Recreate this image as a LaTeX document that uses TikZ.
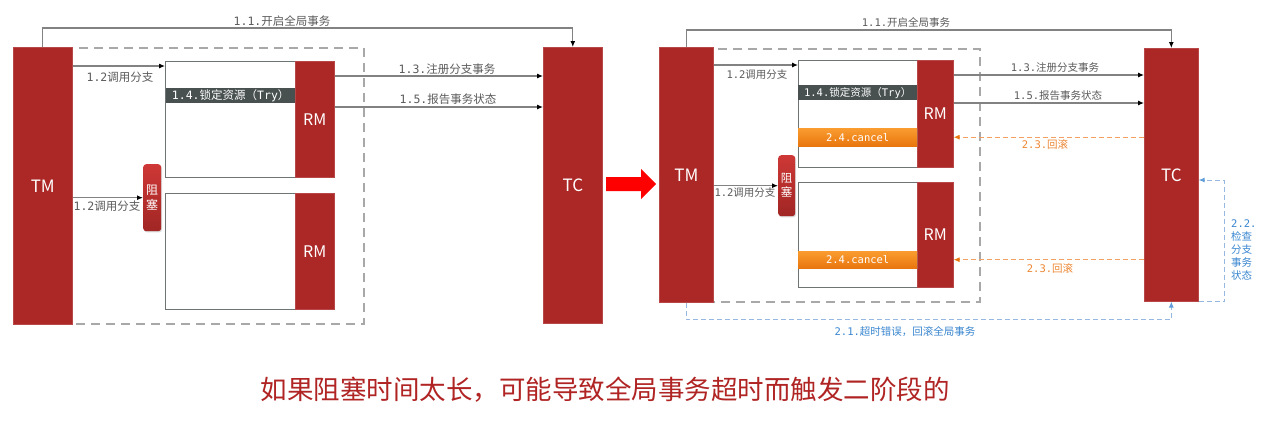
\documentclass[tikz,border=0pt]{standalone}
\usepackage{fontspec}
\setmainfont{DejaVu Sans}
\newfontfamily\cjk{Noto Sans CJK SC}
\newfontfamily\mono{DejaVu Sans Mono}
\usetikzlibrary{arrows.meta,shadows,calc}
\definecolor{tred}{RGB}{172,40,38}
\definecolor{dashgray}{RGB}{168,168,168}
\definecolor{linegray}{RGB}{130,130,130}
\definecolor{labelgray}{RGB}{90,90,90}
\definecolor{boxgray}{RGB}{110,116,116}
\definecolor{trybg}{RGB}{72,80,80}
\definecolor{otop}{RGB}{250,156,48}
\definecolor{obot}{RGB}{232,118,14}
\definecolor{oline}{RGB}{244,160,100}
\definecolor{otext}{RGB}{236,134,50}
\definecolor{btext}{RGB}{58,134,207}
\definecolor{bline}{RGB}{150,184,224}
\definecolor{blktop}{RGB}{206,56,54}
\definecolor{blkbot}{RGB}{160,38,36}
\definecolor{bigtext}{RGB}{176,36,36}
\newcommand\fsA{\fontsize{11.5}{13}\selectfont}
\newcommand\fsB{\fontsize{10.5}{12}\selectfont}
\newcommand\mx[2]{{\mono #1}{\cjk #2}}
\tikzset{
  redbar/.style={fill=tred, draw=tred!85!white, line width=0.6pt, inner sep=0, anchor=north west,
    text=white, font=\cjk\fontsize{17}{17}\selectfont},
  rmbar/.style={redbar, font=\cjk\fontsize{16}{16}\selectfont},
  whitebox/.style={draw=boxgray, line width=1.2pt, fill=white, inner sep=0, anchor=north west},
  scopebox/.style={draw=dashgray, line width=2.4pt, dash pattern=on 9pt off 6pt, inner sep=0, anchor=north west},
  trybox/.style={fill=trybg, text=white, inner sep=0, anchor=north west},
  cancelbox/.style={top color=otop, bottom color=obot, draw=none, text=white, inner sep=0, anchor=north west,
    drop shadow={opacity=0.25, shadow xshift=0.5pt, shadow yshift=-1pt}},
  blockbox/.style={top color=blktop, bottom color=blkbot, rounded corners=3pt, text=white, inner sep=0,
    anchor=north west, align=center, drop shadow={opacity=0.3, shadow xshift=0.8pt, shadow yshift=-1.2pt}},
  lblA/.style={text=labelgray, font=\fsA, inner sep=0},
  lblB/.style={text=labelgray, font=\fsB, inner sep=0},
  olbl/.style={text=otext, font=\fsB, inner sep=0},
  blbl/.style={text=btext, font=\fsB, inner sep=0},
  conn/.style={draw=linegray, line width=1.1pt, -{Latex[length=6pt,width=5pt,color=black]}},
  oconn/.style={draw=oline, line width=1pt, dash pattern=on 5pt off 3pt, -{Latex[length=6pt,width=5pt,color=obot]}},
  bconn/.style={draw=bline, line width=1pt, dash pattern=on 5pt off 3pt, -{Latex[length=6pt,width=5pt,color=btext!80!white]}},
}
\begin{document}
\begin{tikzpicture}[x=1pt,y=-1pt]
\useasboundingbox (0,0) rectangle (1265,421);
% ================= LEFT =================
\node[scopebox, minimum width=333pt, minimum height=276pt] (scopeL) at (30,47) {};
\node[whitebox, minimum width=169pt, minimum height=116pt] (boxUL) at (165,61) {};
\node[whitebox, minimum width=169pt, minimum height=116pt] (boxDL) at (165,193) {};
\node[rmbar, minimum width=39pt, minimum height=116pt] (rmUL) at (295,61) {RM};
\node[rmbar, minimum width=39pt, minimum height=116pt] (rmDL) at (295,193) {RM};
\node[trybox, minimum width=129pt, minimum height=15pt, font=\fsA] (tryL) at (166,88) {\mx{1.4.}{锁定资源（}{\mono Try}{\cjk ）}};
\node[blockbox, minimum width=18pt, minimum height=67pt, font=\fontsize{12}{15}\selectfont] (blkL) at (143,164) {\cjk 阻\\\cjk 塞};
\node[redbar, minimum width=59pt, minimum height=277pt] (tmL) at (13,47) {TM};
\node[redbar, minimum width=59pt, minimum height=276pt] (tcL) at (543,47) {TC};

\draw[conn] (tmL.north) -- ++(0,-19) -| (tcL.north);
\node[lblA] (l11L) at (282,21) {\mx{1.1.}{开启全局事务}};
\draw[conn] ($(tmL.east |- boxUL.north)+(0,5)$) -- ($(boxUL.north west)+(0,5)$);
\node[lblA] (l12aL) at (120,77) {\mx{1.2}{调用分支}};
\draw[conn] (tmL.east |- blkL.west) -- (blkL.west);
\node[lblA] (l12bL) at (107,206) {\mx{1.2}{调用分支}};
\draw[conn] ($(rmUL.north east)+(0,15)$) -- ($(tcL.west |- rmUL.north)+(0,15)$);
\node[lblA] (l13L) at (447,69) {\mx{1.3.}{注册分支事务}};
\draw[conn] ($(rmUL.north east)+(0,46)$) -- ($(tcL.west |- rmUL.north)+(0,46)$);
\node[lblA] (l15L) at (448,99) {\mx{1.5.}{报告事务状态}};

% ================= ARROW =================
\fill[red] (606,177) -- (641,177) -- (641,169) -- (656,184) -- (641,199) -- (641,191) -- (606,191) -- cycle;

% ================= RIGHT =================
\node[scopebox, minimum width=304pt, minimum height=253pt] (scopeR) at (675,48) {};
\node[whitebox, minimum width=155pt, minimum height=107pt] (boxUR) at (798,60) {};
\node[whitebox, minimum width=155pt, minimum height=105pt] (boxDR) at (798,182) {};
\node[rmbar, minimum width=36pt, minimum height=107pt] (rmUR) at (917,60) {RM};
\node[rmbar, minimum width=36pt, minimum height=105pt] (rmDR) at (917,182) {RM};
\node[trybox, minimum width=119pt, minimum height=15pt, font=\fsB] (tryR) at (798,85) {\mx{1.4.}{锁定资源（}{\mono Try}{\cjk ）}};
\node[cancelbox, minimum width=119pt, minimum height=18pt, font=\fsB] (canUR) at (798,128) {\mono 2.4.cancel};
\node[cancelbox, minimum width=119pt, minimum height=17pt, font=\fsB] (canDR) at (798,251) {\mono 2.4.cancel};
\node[blockbox, minimum width=17pt, minimum height=61pt, font=\fontsize{11.5}{14}\selectfont] (blkR) at (778,155) {\cjk 阻\\\cjk 塞};
\node[redbar, minimum width=54pt, minimum height=255pt] (tmR) at (659,47) {TM};
\node[redbar, minimum width=54pt, minimum height=253pt] (tcR) at (1144,48) {TC};

\draw[conn] (tmR.north) -- ++(0,-17) -| (tcR.north);
\node[lblB] (l11R) at (906,22) {\mx{1.1.}{开启全局事务}};
\draw[conn] ($(tmR.east |- boxUR.north)+(0,5)$) -- ($(boxUR.north west)+(0,5)$);
\node[lblB] (l12aR) at (757,75) {\mx{1.2}{调用分支}};
\draw[conn] (tmR.east |- blkR.west) -- (blkR.west);
\node[lblB] (l12bR) at (745,193) {\mx{1.2}{调用分支}};
\draw[conn] ($(rmUR.north east)+(0,15)$) -- ($(tcR.west |- rmUR.north)+(0,15)$);
\node[lblB] (l13R) at (1055,68) {\mx{1.3.}{注册分支事务}};
\draw[conn] ($(rmUR.north east)+(0,43)$) -- ($(tcR.west |- rmUR.north)+(0,43)$);
\node[lblB] (l15R) at (1058,96) {\mx{1.5.}{报告事务状态}};

\draw[oconn] (tcR.west |- canUR.east) -- (rmUR.east |- canUR.east);
\node[olbl] (l23aR) at (1045,144) {\mx{2.3.}{回滚}};
\draw[oconn] (tcR.west |- canDR.east) -- (rmDR.east |- canDR.east);
\node[olbl] (l23bR) at (1050,268) {\mx{2.3.}{回滚}};

\draw[bconn] (tmR.south) -- ++(0,17) -| (tcR.south);
\node[blbl] (l21R) at (905,332) {\mx{2.1.}{超时错误，回滚全局事务}};
\draw[bconn] (tcR.south east) -- ++(26,0) |- ($(tcR.north east)+(0,132)$);
\node[blbl, anchor=west, align=left, font=\fontsize{10.5}{13.2}\selectfont] (l22R) at (1231,250)
  {{\mono 2.2.}\\\cjk 检查\\\cjk 分支\\\cjk 事务\\\cjk 状态};

% ================= CAPTION =================
\node[text=bigtext, font=\cjk\fontsize{26.5}{28}\selectfont, inner sep=0] (cap) at (605,390)
  {如果阻塞时间太长，可能导致全局事务超时而触发二阶段的};
\end{tikzpicture}
\end{document}
